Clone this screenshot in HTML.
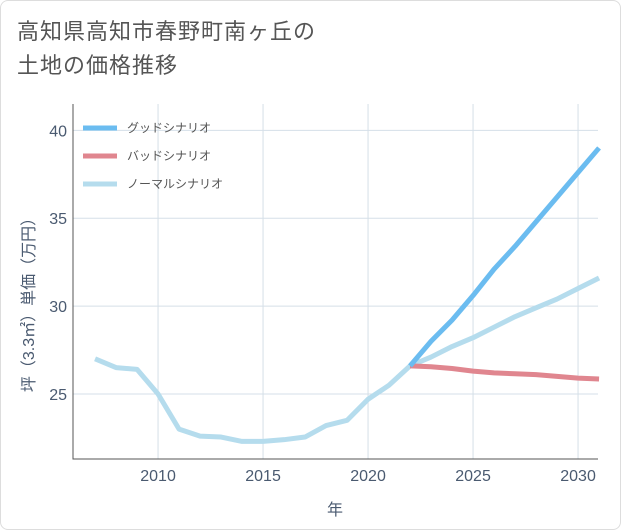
<!DOCTYPE html>
<html><head><meta charset="utf-8"><style>
body{margin:0;background:#fff;font-family:"Liberation Sans","Noto Sans CJK JP",sans-serif;}
#wrap{position:relative;width:619px;height:528px;border:1px solid #ddd;border-radius:8px;background:#fff;overflow:hidden}
#title{position:absolute;left:16px;top:14px;font-size:22px;line-height:34px;color:#555;letter-spacing:1px}
svg{position:absolute;left:0;top:0}
</style></head><body>
<div id="wrap">
<div id="title">高知県高知市春野町南ヶ丘の<br>土地の価格推移</div>
<svg id="chart" width="621" height="530"></svg>
</div>
<script>
const years=[2007,2008,2009,2010,2011,2012,2013,2014,2015,2016,2017,2018,2019,2020,2021,2022,2023,2024,2025,2026,2027,2028,2029,2030,2031];
const normal=[27.0,26.5,26.4,25.0,23.0,22.6,22.55,22.3,22.3,22.4,22.55,23.2,23.5,24.7,25.5,26.6,27.1,27.7,28.2,28.8,29.4,29.9,30.4,31.0,31.6];
const fYears=[2022,2023,2024,2025,2026,2027,2028,2029,2030,2031];
const good=[26.6,28.0,29.2,30.6,32.1,33.4,34.8,36.2,37.6,39.0];
const bad=[26.6,26.55,26.45,26.3,26.2,26.15,26.1,26.0,25.9,25.85];
const xTicks=[2010,2015,2020,2025,2030];
const yTicks=[25,30,35,40];
const L=72,R=597,T=103,B=458;
const x=v=>L+(v-2005.95)*(R-L)/25;
const y=v=>B-(v-21.3)*(B-T)/(41.5-21.3);
const s=document.getElementById('chart');const NS='http://www.w3.org/2000/svg';
function el(t,a,p){const e=document.createElementNS(NS,t);for(const k in a)e.setAttribute(k,a[k]);(p||s).appendChild(e);return e;}
xTicks.forEach(v=>{const l=el('line',{x1:x(v),x2:x(v),y1:T,y2:B,stroke:'#d5dfe8','stroke-width':1});


const t=el('text',{x:x(v),y:B+22,'text-anchor':'middle','font-size':16,fill:'#4a5a70'});t.textContent=v;

});
yTicks.forEach(v=>{const l=el('line',{x1:L,x2:R,y1:y(v),y2:y(v),stroke:'#d5dfe8','stroke-width':1});


const t=el('text',{x:L-6,y:y(v)+6,'text-anchor':'end','font-size':16,fill:'#4a5a70'});t.textContent=v;

});
const ax=el('path',{d:`M${L} ${T}V${B}H${R}`,fill:'none',stroke:'#555','stroke-width':1});


function line(xs,ys,c,n){const p=el('polyline',{points:xs.map((v,i)=>x(v)+','+y(ys[i])).join(' '),fill:'none',stroke:c,'stroke-width':5,'stroke-linejoin':'round'});

}
line(years,normal,'#b5dced','normal-scenario-line');
line(fYears,bad,'#e0868f','bad-scenario-line');
line(fYears,good,'#6bbcf0','good-scenario-line');
const lg=[['グッドシナリオ','#6bbcf0'],['バッドシナリオ','#e0868f'],['ノーマルシナリオ','#b5dced']];
lg.forEach((d,i)=>{const g=el('g',{});


el('line',{x1:82,x2:116,y1:127+i*28,y2:127+i*28,stroke:d[1],'stroke-width':5},g);
const t=el('text',{x:126,y:131+i*28,'font-size':12,fill:'#555'},g);t.textContent=d[0];});
const xt=el('text',{x:334,y:514,'text-anchor':'middle','font-size':16,fill:'#4a5a70'});xt.textContent='年';


const yt=el('text',{x:0,y:0,'text-anchor':'middle','font-size':16,fill:'#4a5a70',transform:'translate(33,300) rotate(-90)'});yt.textContent='坪（3.3㎡）単価（万円）';


</script>
</body></html>
